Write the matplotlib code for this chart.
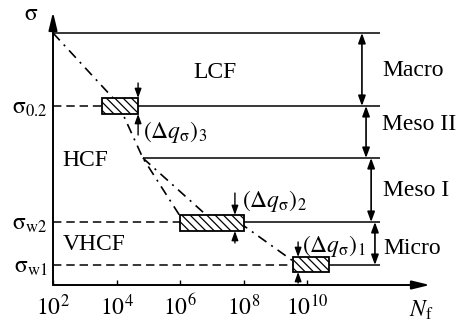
import numpy as np
import matplotlib
matplotlib.use('Agg')
import matplotlib.pyplot as plt
from matplotlib.patches import Rectangle
from matplotlib.ticker import NullLocator, FixedLocator

plt.rcParams['font.family'] = ['Liberation Serif', 'DejaVu Serif']
plt.rcParams['mathtext.fontset'] = 'stix'
plt.rcParams['hatch.linewidth'] = 0.9

FS = 17

# ---- data (x: log10 N_f, y: schematic stress units) ----
x_tick_exp = [2, 4, 6, 8, 10]
x_tick_labels = [r'$10^{2}$', r'$10^{4}$', r'$10^{6}$', r'$10^{8}$', r'$10^{10}$']

solid_level_y = [252, 179, 127, 63, 20]
solid_level_start = [2.0, 4.68, 4.83, 8.02, 10.69]
solid_level_end = [12.3, 12.3, 12.3, 12.3, 12.3]

dashed_level_y = [179, 63, 20]
dashed_level_end = [3.54, 6.0, 9.56]
y_tick_labels = [r'$\mathrm{\sigma}_{0.2}$', r'$\mathrm{\sigma}_{\mathrm{w2}}$',
                 r'$\mathrm{\sigma}_{\mathrm{w1}}$']

box_left = [3.54, 6.0, 9.56]
box_right = [4.68, 8.02, 10.69]
box_bottom = [171, 54, 13]
box_top = [187, 70, 28]

curve_a_x = [2.0, 3.89, 4.20, 4.83, 6.0]
curve_a_y = [252, 187, 171, 127, 69]
curve_b_x = [4.83, 6.79, 8.02, 9.56]
curve_b_y = [127, 71, 59, 24]

dq_x = [4.68, 7.73, 9.72]
dq_top_from = [202, 92, 43]
dq_bot_from = [150, 42, 2]
dq_label_x = [4.83, 7.95, 9.84]
dq_label_y = [153, 84, 39]
dq_labels = [r'$(\Delta q_{\mathrm{\sigma}})_{3}$', r'$(\Delta q_{\mathrm{\sigma}})_{2}$',
             r'$(\Delta q_{\mathrm{\sigma}})_{1}$']

scale_names = ['Macro', 'Meso II', 'Meso I', 'Micro']
scale_top = [252, 179, 127, 63]
scale_bottom = [179, 127, 63, 20]
scale_arrow_x = [11.73, 11.86, 12.02, 12.14]
scale_label_x = [12.36, 12.36, 12.38, 12.40]
scale_label_y = [214, 161, 95, 37]

regime_names = ['LCF', 'HCF', 'VHCF']
regime_x = [7.10, 2.31, 2.31]
regime_y = [213, 125, 41]
regime_ha = ['center', 'left', 'left']

X_MAX = 2 + 377 / 31.75
Y_MAX = 273


def N(v):
    return np.power(10.0, np.asarray(v, dtype=float))


fig = plt.figure(figsize=(4.58, 3.27), dpi=100)
ax = fig.add_axes([53 / 458, 42 / 327, 377 / 458, 273 / 327])
ax.set_xscale('log')
ax.set_xlim(1e2, 10 ** X_MAX)
ax.set_ylim(0, Y_MAX)
for s in ax.spines.values():
    s.set_visible(False)

ax.xaxis.set_major_locator(FixedLocator(N(x_tick_exp)))
ax.xaxis.set_minor_locator(NullLocator())
ax.set_xticklabels(x_tick_labels)
ax.tick_params(axis='x', direction='in', length=3.8, width=1.0, pad=7,
               labelsize=FS, top=False)
ax.set_yticks(dashed_level_y)
ax.set_yticklabels(y_tick_labels)
ax.tick_params(axis='y', length=0, pad=4, labelsize=FS)

# axes arrows
axis_arrow = dict(arrowstyle='-|>,head_length=0.54,head_width=0.13', lw=1.4,
                  color='k', shrinkA=0, shrinkB=0, mutation_scale=20)
ax.annotate('', xy=(1, 0), xytext=(0, 0), xycoords='axes fraction',
            arrowprops=axis_arrow, annotation_clip=False)
ax.annotate('', xy=(0, 1), xytext=(0, 0), xycoords='axes fraction',
            arrowprops=axis_arrow, annotation_clip=False)

ax.set_ylabel(r'$\mathrm{\sigma}$', rotation=0, fontsize=FS, ha='center', va='center')
ax.yaxis.set_label_coords(-0.058, 0.99)
ax.set_xlabel(r'$N_{\mathrm{f}}$', fontsize=FS, ha='center', va='center')
ax.xaxis.set_label_coords(0.976, -0.092)

# level lines
for y, x0, x1 in zip(solid_level_y, solid_level_start, solid_level_end):
    ax.plot(N([x0, x1]), [y, y], color='k', lw=1.1, solid_capstyle='butt', zorder=3)
for y, x1 in zip(dashed_level_y, dashed_level_end):
    ax.plot(N([2.0, x1]), [y, y], color='k', lw=1.1, ls=(0, (5.5, 3.2)), zorder=3)

# S-N type curves
dashdot = (0, (6, 3.5, 1.2, 3.5))
ax.plot(N(curve_a_x), curve_a_y, color='k', lw=1.2, ls=dashdot, zorder=2)
ax.plot(N(curve_b_x), curve_b_y, color='k', lw=1.2, ls=dashdot, zorder=2)

# hatched boxes
for l, r, b, t in zip(box_left, box_right, box_bottom, box_top):
    ax.add_patch(Rectangle((10 ** l, b), 10 ** r - 10 ** l, t - b, facecolor='white',
                           edgecolor='k', lw=1.3, hatch='\\\\\\\\', zorder=4))

# delta q arrows
small_arrow = dict(arrowstyle='-|>,head_length=0.55,head_width=0.2', lw=1.0,
                   color='k', shrinkA=0, shrinkB=0, mutation_scale=10)
for x, tf, bf, b, t in zip(dq_x, dq_top_from, dq_bot_from, box_bottom, box_top):
    ax.annotate('', xy=(10 ** x, t), xytext=(10 ** x, tf), arrowprops=small_arrow, zorder=5)
    ax.annotate('', xy=(10 ** x, b), xytext=(10 ** x, bf), arrowprops=small_arrow, zorder=5)
for x, y, s in zip(dq_label_x, dq_label_y, dq_labels):
    ax.text(10 ** x, y, s, fontsize=FS, ha='left', va='center')

# scale arrows
dbl_arrow = dict(arrowstyle='<|-|>,head_length=0.6,head_width=0.22', lw=1.2,
                 color='k', shrinkA=0, shrinkB=0, mutation_scale=10)
for x, t, b in zip(scale_arrow_x, scale_top, scale_bottom):
    ax.annotate('', xy=(10 ** x, t), xytext=(10 ** x, b), arrowprops=dbl_arrow)
for x, y, s in zip(scale_label_x, scale_label_y, scale_names):
    ax.text(10 ** x, y, s, fontsize=FS, ha='left', va='center', clip_on=False)

for x, y, s, ha in zip(regime_x, regime_y, regime_names, regime_ha):
    ax.text(10 ** x, y, s, fontsize=FS, ha=ha, va='center')

fig.savefig('out.png', dpi=100)
